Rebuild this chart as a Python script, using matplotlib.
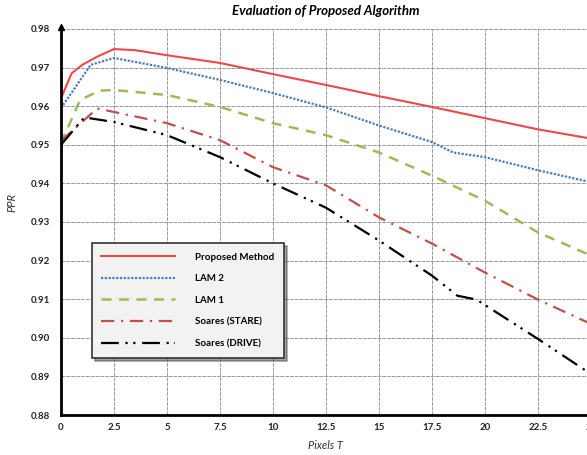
import matplotlib.pyplot as plt

plt.rcParams['font.family'] = ['Lato', 'DejaVu Sans']

# данные
x_prop = [0, 0.5, 1, 1.7, 2.5, 3.5, 5, 7.5, 10, 12.5, 15, 17.5, 20, 22.5, 25]
y_prop = [0.962, 0.9685, 0.9707, 0.9728, 0.9748, 0.9745, 0.9732, 0.9712, 0.9683,
          0.9655, 0.9626, 0.9598, 0.9569, 0.954, 0.9516]

x_lam2 = [0, 1.4, 2.5, 5, 7.5, 10, 12.5, 15, 17.5, 18.5, 20, 22.5, 25]
y_lam2 = [0.9595, 0.9707, 0.9725, 0.9699, 0.9668, 0.9634, 0.9597, 0.955, 0.9507,
          0.948, 0.9468, 0.9434, 0.9403]

x_lam1 = [0, 0.9, 1.8, 2.5, 5, 7.5, 10, 12.5, 15, 17.5, 20, 22.5, 25]
y_lam1 = [0.9504, 0.9616, 0.964, 0.9642, 0.9629, 0.9598, 0.9556, 0.9525, 0.948,
          0.942, 0.9355, 0.9273, 0.9213]

x_stare = [0, 1.7, 2.5, 5, 7.5, 10, 12.5, 15, 17.5, 20, 22.5, 25]
y_stare = [0.951, 0.9594, 0.9585, 0.9556, 0.9512, 0.9442, 0.9395, 0.9312, 0.9244,
           0.9169, 0.9099, 0.9036]

x_drive = [0, 1.1, 2.5, 5, 7.5, 10, 12.5, 15, 17.5, 18.7, 19.6, 22.5, 25]
y_drive = [0.950, 0.9571, 0.9559, 0.9525, 0.9468, 0.940, 0.9337, 0.9252, 0.9161,
           0.9109, 0.9099, 0.8997, 0.8906]

xticks = [0, 2.5, 5, 7.5, 10, 12.5, 15, 17.5, 20, 22.5, 25]
xtick_labels = ['0', '2.5', '5', '7.5', '10', '12.5', '15', '17.5', '20', '22.5', '25']
yticks = [0.88, 0.89, 0.90, 0.91, 0.92, 0.93, 0.94, 0.95, 0.96, 0.97, 0.98]

fig = plt.figure(figsize=(5.87, 4.55), dpi=100)
ax = fig.add_axes([0.1039, 0.0879, 0.9029, 0.8484])

ax.plot(x_prop, y_prop, color='#f0474a', lw=1.5, ls='-', label='Proposed Method')
ax.plot(x_lam2, y_lam2, color='#4a7ebb', lw=1.6, ls=(0, (1, 0.7)), label='LAM 2')
ax.plot(x_lam1, y_lam1, color='#9bbb59', lw=1.8, ls=(0, (4, 3)), label='LAM 1')
ax.plot(x_stare, y_stare, color='#c0504d', lw=1.6, ls=(0, (6, 3, 1, 3)),
        label='Soares (STARE)')
ax.plot(x_drive, y_drive, color='black', lw=1.6, ls=(0, (8, 3, 1, 2.5, 1, 3)),
        label='Soares (DRIVE)')

ax.set_xlim(0, 25)
ax.set_ylim(0.88, 0.98)
ax.set_xticks(xticks)
ax.set_xticklabels(xtick_labels)
ax.set_yticks(yticks)
ax.set_yticklabels(['%.2f' % v for v in yticks])
ax.tick_params(length=0, labelsize=7, pad=8, labelcolor='#222222')
ax.tick_params(axis='x', pad=6)
for t in ax.get_xticklabels() + ax.get_yticklabels():
    t.set_fontweight('bold')

ax.grid(True, color='#9a9a9a', lw=0.7, ls=(0, (4, 1)))
ax.set_axisbelow(True)

for s in ['top', 'right']:
    ax.spines[s].set_visible(False)
for s in ['left', 'bottom']:
    ax.spines[s].set_linewidth(2)
ax.plot(0, 1.005, '^k', ms=4, transform=ax.transAxes, clip_on=False)
ax.plot(1.0, 0, '>k', ms=4, transform=ax.transAxes, clip_on=False)

ax.set_title('Evaluation of Proposed Algorithm', fontsize=9.5, fontweight='bold',
             style='italic', pad=10, x=0.5)
ax.set_xlabel('Pixels T', fontsize=8, style='italic', color='#333333')
ax.xaxis.set_label_coords(0.5, -0.066)
ax.set_ylabel('PPR', fontsize=8, style='italic', color='#333333')
ax.yaxis.set_label_coords(-0.083, 0.55)

leg = ax.legend(loc='upper left', bbox_to_anchor=(0.058, 0.446), borderaxespad=0,
                prop={'size': 7, 'weight': 'bold'}, handlelength=7.6,
                labelspacing=1.3, borderpad=1.0, handletextpad=2.0,
                fancybox=False, shadow=True, framealpha=1,
                facecolor='#f2f2f2', edgecolor='#333333')
leg.get_frame().set_linewidth(1.2)

fig.savefig('out.png', dpi=100)
